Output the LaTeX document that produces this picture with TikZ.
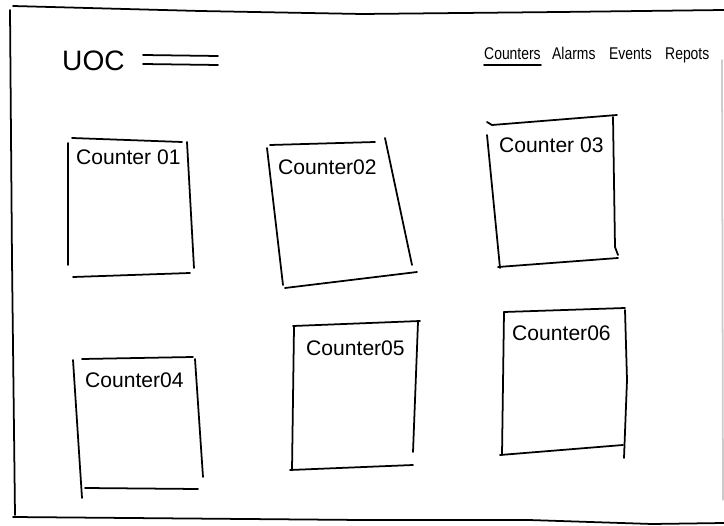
\documentclass[tikz,border=0pt]{standalone}
\usepackage{fontspec}
\setmainfont{Liberation Sans}

\tikzset{
    sketch/.style={line width=1.5pt, line cap=round, line join=round},
    boxlabel/.style={anchor=west, inner sep=0pt, font=\fontsize{18}{18}\selectfont},
    navitem/.style={anchor=base west, inner sep=0pt, xscale=0.82, font=\fontsize{14.5}{14.5}\selectfont},
}

\begin{document}
\begin{tikzpicture}[x=0.3mm, y=-0.3mm]
    \useasboundingbox (0, 0) rectangle (724, 526);

    % page frame
    \draw[sketch] (13, 6) -- (200, 11) -- (362, 14) -- (560, 12) -- (724, 10);
    \draw[sketch] (10, 10) -- (12, 260) -- (15, 515);
    \draw[sketch] (13, 517) -- (362, 520) -- (529, 520) -- (652, 524) -- (724, 523);
    \draw[sketch, gray!40] (722, 60) -- (723, 500);

    % header
    \node[anchor=west, inner sep=0pt, font=\fontsize{24}{24}\selectfont] (logo) at (62, 61) {UOC};
    \draw[sketch] (143, 55) -- (218, 56);
    \draw[sketch] (143, 64) -- (218, 65);

    \foreach \x/\word in {484/Counters, 552/Alarms, 609/Events, 665/Repots} {
        \node[navitem] (nav-\word) at (\x, 60) {\word};
    }
    \draw[sketch] ([yshift=-4pt]nav-Counters.base west) -- ([yshift=-4pt]nav-Counters.base east);

    % first row
    \draw[sketch] (72, 138) -- (182, 142);
    \draw[sketch] (68, 143) -- (68, 265);
    \draw[sketch] (187, 142) -- (194, 268);
    \draw[sketch] (73, 277) -- (190, 273);
    \node[boxlabel] (c1) at (76, 157) {Counter 01};

    \draw[sketch] (270, 145) -- (375, 142);
    \draw[sketch] (267, 148) -- (283, 285);
    \draw[sketch] (385, 138) -- (412, 265);
    \draw[sketch] (285, 288) -- (417, 272);
    \node[boxlabel] (c2) at (278, 167) {Counter02};

    \draw[sketch] (487, 122) -- (492, 125) -- (617, 115);
    \draw[sketch] (487, 135) -- (500, 268);
    \draw[sketch] (613, 117) -- (615, 247) -- (618, 255);
    \draw[sketch] (498, 267) -- (618, 258);
    \node[boxlabel] (c3) at (499, 145) {Counter 03};

    % second row
    \draw[sketch] (82, 359) -- (193, 357);
    \draw[sketch] (73, 360) -- (82, 498);
    \draw[sketch] (195, 359) -- (203, 477);
    \draw[sketch] (85, 488) -- (198, 489);
    \node[boxlabel] (c4) at (85, 380) {Counter04};

    \draw[sketch] (293, 326) -- (420, 321);
    \draw[sketch] (294, 327) -- (292, 470);
    \draw[sketch] (418, 322) -- (413, 452);
    \draw[sketch] (290, 470) -- (413, 465);
    \node[boxlabel] (c5) at (306, 348) {Counter05};

    \draw[sketch] (504, 312) -- (625, 308);
    \draw[sketch] (504, 312) -- (502, 455);
    \draw[sketch] (625, 310) -- (627, 380) -- (624, 458);
    \draw[sketch] (500, 455) -- (623, 445);
    \node[boxlabel] (c6) at (512, 333) {Counter06};

\end{tikzpicture}
\end{document}
